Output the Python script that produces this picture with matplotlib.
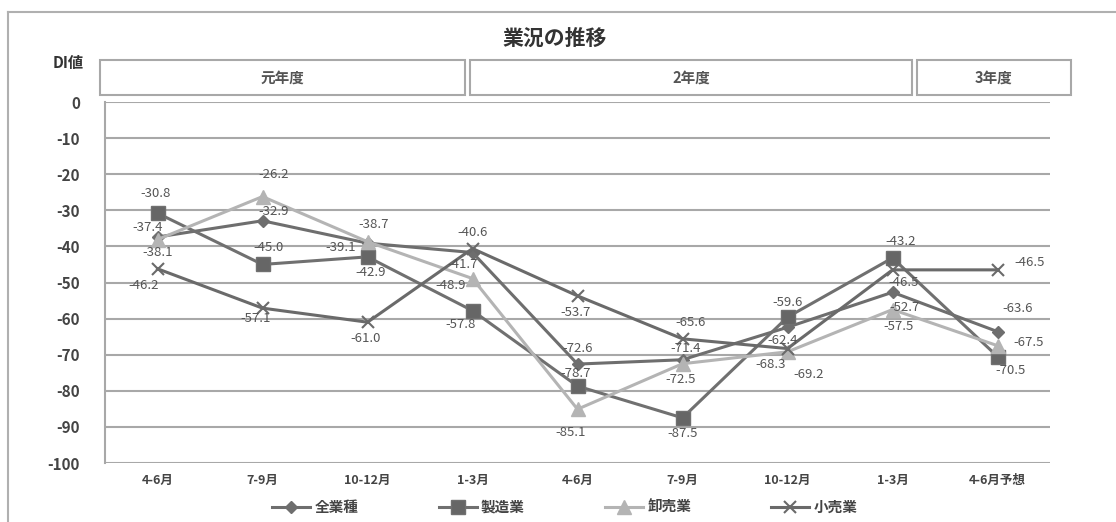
import matplotlib
matplotlib.use("Agg")
import matplotlib.pyplot as plt
from matplotlib.patches import Rectangle
from matplotlib.lines import Line2D

plt.rcParams['font.family'] = ['Noto Sans CJK JP', 'DejaVu Sans']

# ---- data ----
categories = ["4-6月", "7-9月", "10-12月", "1-3月", "4-6月", "7-9月", "10-12月", "1-3月", "4-6月予想"]
years = ["元年度", "2年度", "3年度"]
series_names = ["全業種", "製造業", "卸売業", "小売業"]
all_ind = [-37.4, -32.9, -39.1, -41.7, -72.6, -71.4, -62.4, -52.7, -63.6]
manuf = [-30.8, -45.0, -42.9, -57.8, -78.7, -87.5, -59.6, -43.2, -70.5]
wholesale = [-38.1, -26.2, -38.7, -48.9, -85.1, -72.5, -69.2, -57.5, -67.5]
retail = [-46.2, -57.1, -61.0, -40.6, -53.7, -65.6, -68.3, -46.5, -46.5]
yticks = [0, -10, -20, -30, -40, -50, -60, -70, -80, -90, -100]

# ---- styles / label offsets (pixels) ----
styles = [
    dict(color="#6e6e6e", marker="D", ms=6, mfc="#6e6e6e"),
    dict(color="#707070", marker="s", ms=10, mfc="#666666"),
    dict(color="#b4b4b4", marker="^", ms=10, mfc="#b4b4b4"),
    dict(color="#6a6a6a", marker="x", ms=8, mew=1.5),
]
offsets = [
    [(-10, 10), (11, 9), (-27, -4), (-10, -12), (0, 16), (3, 11), (-5, -13), (12, -15), (20, 23)],
    [(-2, 20), (6, 17), (3, -16), (-12, -14), (-2, 13), (0, -16), (0, 15), (8, 16), (13, -14)],
    [(0, -13), (11, 22), (6, 17), (-22, -7), (-7, -23), (-2, -16), (21, -23), (6, -17), (31, 3)],
    [(-14, -17), (-7, -10), (-2, -16), (0, 16), (-2, -17), (8, 16), (-17, -16), (11, -13), (32, 7)],
]

W, H = 1116, 522
fig = plt.figure(figsize=(W / 100, H / 100), dpi=100)
fig.patch.set_facecolor("white")

# outer frame (partially visible)
fig.add_artist(Line2D([8 / W, 8 / W], [0, 1 - 12 / H], transform=fig.transFigure, color="#b0b0b0", lw=1.5))
fig.add_artist(Line2D([8 / W, 1], [1 - 12 / H, 1 - 12 / H], transform=fig.transFigure, color="#b0b0b0", lw=1.5))

ax = fig.add_axes([105 / W, 1 - 463 / H, (1050 - 105) / W, (463 - 102) / H])
x = list(range(len(categories)))
data = [all_ind, manuf, wholesale, retail]
for vals, st, offs, name in zip(data, styles, offsets, series_names):
    ax.plot(x, vals, lw=2.2, label=name, zorder=3, **st)
    for xi, v, (dx, dy) in zip(x, vals, offs):
        ax.annotate(f"{v:.1f}", (xi, v), xytext=(dx, dy), textcoords="offset pixels",
                    ha="center", va="center", fontsize=9.5, color="#555555", zorder=5)

ax.set_xlim(-0.5, len(categories) - 0.5)
ax.set_ylim(-100, 0)
ax.set_yticks(yticks)
ax.set_yticklabels([str(t) for t in yticks], fontsize=11, fontweight="bold", color="#444444")
ax.set_xticks(x)
ax.set_xticklabels(categories, fontsize=9, fontweight="bold", color="#444444")
ax.tick_params(axis="both", length=0)
ax.tick_params(axis="y", pad=18)
ax.tick_params(axis="x", pad=8)
ax.grid(axis="y", color="#a8a8a8", lw=1.5)
for s in ["top", "right", "bottom"]:
    ax.spines[s].set_visible(False)
ax.spines["left"].set_color("#a8a8a8")
ax.spines["left"].set_linewidth(1.5)
ax.set_axisbelow(True)

# title and unit label
fig.text(555 / W, 1 - 38 / H, "業況の推移", ha="center", va="center", fontsize=15, fontweight="bold", color="#333333")
fig.text(68 / W, 1 - 63 / H, "DI値", ha="center", va="center", fontsize=11, fontweight="bold", color="#333333")

# fiscal year boxes
boxes = [(100, 465), (470, 912), (917, 1071)]
for (x0, x1), label in zip(boxes, years):
    fig.add_artist(Rectangle((x0 / W, 1 - 95 / H), (x1 - x0) / W, 35 / H, transform=fig.transFigure,
                             fill=False, edgecolor="#a8a8a8", lw=1.5))
    fig.text((x0 + x1) / 2 / W, 1 - 78 / H, label, ha="center", va="center", fontsize=10.5,
             fontweight="bold", color="#555555")

leg = fig.legend(loc="center", bbox_to_anchor=(565 / W, 1 - 507 / H), ncol=4, frameon=False,
                 fontsize=10.5, handlelength=2.6, columnspacing=5.5, handletextpad=0.3)
for t in leg.get_texts():
    t.set_color("#444444")
    t.set_fontweight("bold")

fig.savefig("out.png", dpi=100, facecolor="white")
